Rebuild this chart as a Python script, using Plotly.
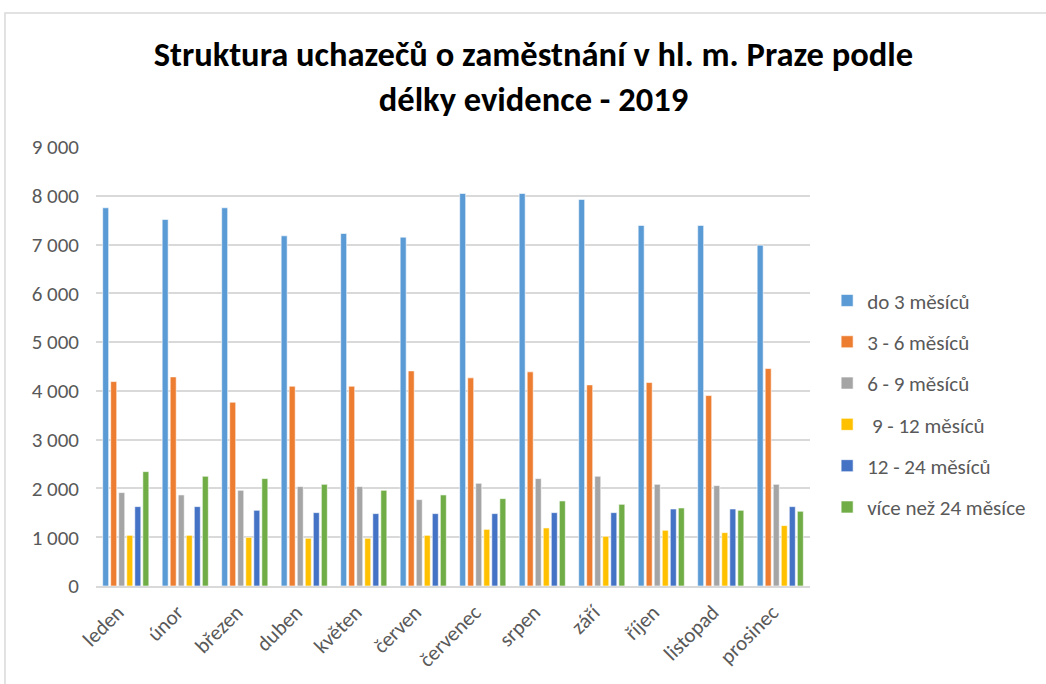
import plotly.graph_objects as go

months = ["leden", "únor", "březen", "duben", "květen", "červen",
          "červenec", "srpen", "září", "říjen", "listopad", "prosinec"]

series_names = ["do 3 měsíců", "3 - 6 měsíců", "6 - 9 měsíců",
                " 9 - 12 měsíců", "12 - 24 měsíců", "více než 24 měsíce"]

do3 = [7754, 7515, 7754, 7179, 7227, 7152, 8048, 8048, 7925, 7392, 7392, 6988]
m3_6 = [4191, 4287, 3768, 4096, 4096, 4410, 4267, 4390, 4123, 4171, 3904, 4458]
m6_9 = [1915, 1867, 1962, 2038, 2038, 1771, 2106, 2202, 2250, 2085, 2058, 2085]
m9_12 = [1039, 1039, 998, 978, 978, 1039, 1162, 1190, 1019, 1142, 1094, 1238]
m12_24 = [1627, 1627, 1552, 1504, 1484, 1484, 1484, 1504, 1504, 1579, 1579, 1627]
over24 = [2345, 2250, 2202, 2085, 1962, 1867, 1791, 1744, 1675, 1600, 1552, 1532]

values = [do3, m3_6, m6_9, m9_12, m12_24, over24]
colors = ["#5B9BD5", "#ED7D31", "#A5A5A5", "#FFC000", "#4472C4", "#70AD47"]

FONT = "Carlito, Calibri, Noto Sans, sans-serif"

fig = go.Figure()
for i, (name, vals, col) in enumerate(zip(series_names, values, colors)):
    fig.add_trace(go.Bar(
        x=months, y=vals, name=name,
        marker=dict(color=col, line=dict(color="white", width=0.6)),
        legendgroup=f"g{i}",
    ))

fig.update_layout(
    width=1046, height=684,
    paper_bgcolor="white", plot_bgcolor="white",
    margin=dict(l=96, r=236, t=147, b=98),
    barmode="group", bargap=0.19, bargroupgap=0.25,
    separators=", ",
    font=dict(family=FONT, size=21, color="#595959"),
    title=dict(
        text="<b>Struktura uchazečů o zaměstnání v hl. m. Praze podle<br>délky evidence - 2019</b>",
        x=0.51, xanchor="center", y=1 - 66 / 684, yanchor="middle",
        font=dict(family=FONT, size=34.5, color="black"),
    ),
    legend=dict(
        x=1.024, xanchor="left", y=0.415, yanchor="middle",
        font=dict(family=FONT, size=21, color="#595959"),
        tracegroupgap=11, traceorder="grouped",
        itemwidth=30,
    ),
    xaxis=dict(
        tickangle=-45, showgrid=False, showline=True,
        linecolor="#d9d9d9", linewidth=1.5, ticks="",
        tickfont=dict(family=FONT, size=21, color="#595959"),
        ticklabelshift=-8, ticklabelstandoff=4,
    ),
    yaxis=dict(
        range=[0, 9000], dtick=1000, tickformat=",d",
        showgrid=True, gridcolor="#d9d9d9", gridwidth=1.5,
        zeroline=False, ticks="", showline=False,
        tickfont=dict(family=FONT, size=21, color="#595959"),
        ticklabelstandoff=16,
    ),
    shapes=[dict(type="rect", xref="paper", yref="paper",
                 x0=-0.1275, x1=1.6, y0=-0.5, y1=1.305,
                 line=dict(color="#d9d9d9", width=1.5), layer="below")],
)

fig.write_html("out.html", config={"displayModeBar": False},
               post_script="document.body.style.margin='0px';")
